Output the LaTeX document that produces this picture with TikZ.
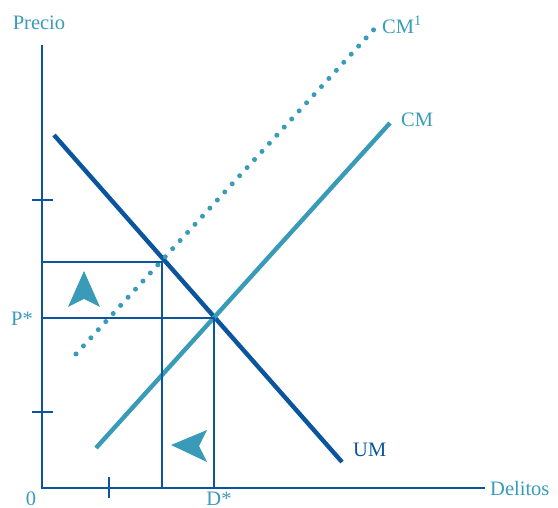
\documentclass[tikz,border=0pt]{standalone}
\usepackage{fontspec}
\setmainfont{Liberation Serif}
\definecolor{umblue}{HTML}{0B559F}
\definecolor{cmteal}{HTML}{3A9BB9}
\begin{document}
\begin{tikzpicture}[x=1pt, y=-1pt]
  \useasboundingbox (0,0) rectangle (558,508);
  \tikzset{
    axis/.style={umblue, line width=2.8pt},
    guide/.style={umblue, line width=1.2pt},
    curve/.style={line width=4.4pt},
    lbl/.style={font=\fontsize{20.5}{21}\selectfont, inner sep=1pt},
    pointer/.style={fill=cmteal, draw=none}
  }

  % Axes
  \coordinate (O) at (42,488);
  \coordinate (Ytop) at (42,45);
  \coordinate (Xend) at (485,488);
  \draw[axis] (Ytop) -- (O) -- (Xend);
  \node[lbl, cmteal] (precio) at (39,23) {Precio};
  \node[lbl, cmteal, anchor=west] (delitos) at (489,488) {Delitos};
  \node[lbl, cmteal, anchor=base, inner sep=0pt] (cero) at (31,505) {0};

  % Ticks
  \draw[axis] (32,200) -- (53,200);
  \draw[axis] (32,412) -- (53,412);
  \draw[axis] (109,477) -- (109,498);

  % Curves
  \coordinate (UMa) at (54,135);
  \coordinate (UMb) at (342,462);
  \coordinate (CMa) at (96,448);
  \coordinate (CMb) at (390,123);
  \coordinate (CMUa) at (76,354);
  \coordinate (CMUb) at (378,25);
  \draw[curve, umblue] (UMa) -- (UMb);
  \draw[curve, cmteal] (CMa) -- (CMb);
  \draw[cmteal, line width=5pt, line cap=round, dash pattern=on 0pt off 11pt] (CMUa) -- (CMUb);
  \node[lbl, umblue, anchor=west] (um) at (352,450) {UM};
  \node[lbl, cmteal, anchor=west] (cm) at (400,120) {CM};
  \node[lbl, cmteal, anchor=west] (cmu) at (381,25) {CM\textsuperscript{1}};

  % Equilibria
  \coordinate (E) at (214,318);
  \coordinate (E1) at (162,262);
  \draw[guide] (42,318) -- (E) -- (214,488);
  \draw[guide] (42,262) -- (E1) -- (162,488);
  \node[lbl, cmteal] (pstar) at (22,319) {P*};
  \node[lbl, cmteal, anchor=base, inner sep=0pt] (dstar) at (219,505) {D*};

  % Pointers
  \fill[pointer] (84,271) -- (100,307) -- (84,299) -- (68,307) -- cycle;
  \fill[pointer] (171,445) -- (207,430) -- (199,446) -- (207,462) -- cycle;
\end{tikzpicture}
\end{document}
